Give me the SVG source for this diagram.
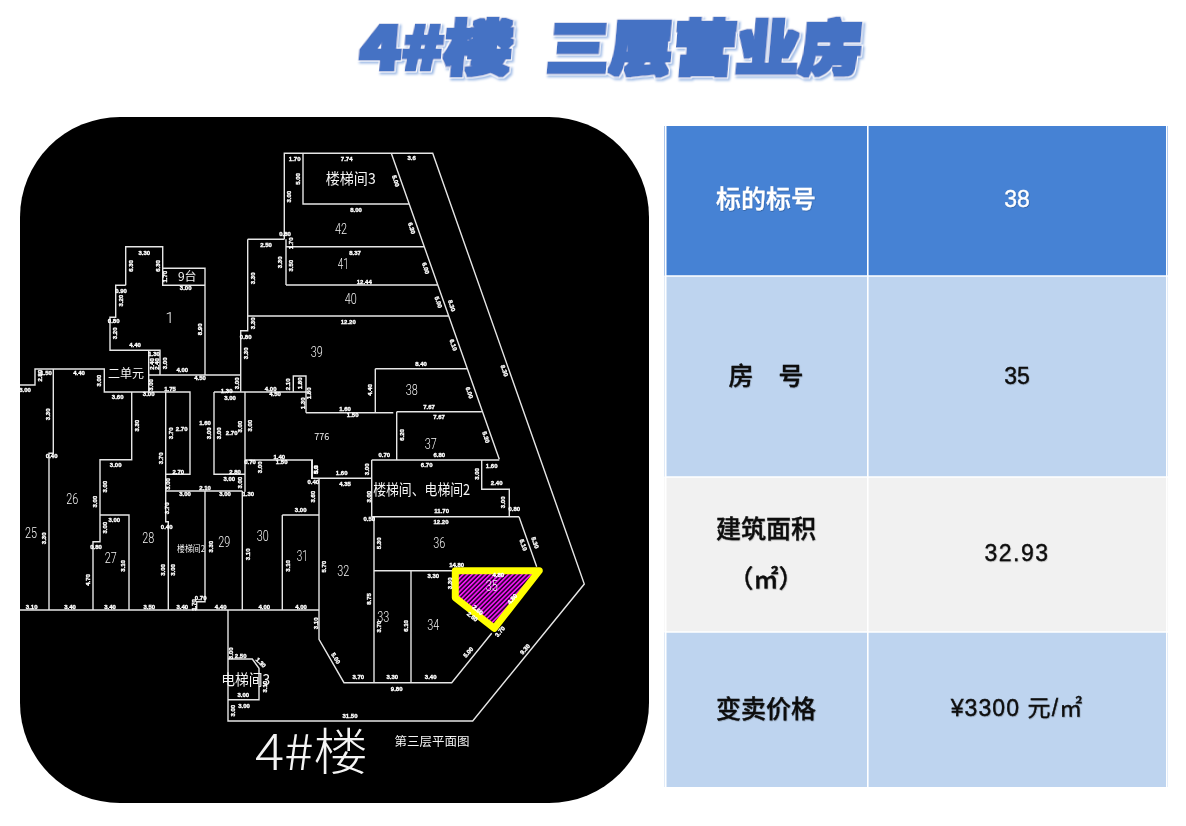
<svg xmlns="http://www.w3.org/2000/svg" width="1186" height="826" viewBox="0 0 1186 826">
<style>
.w{fill:none;stroke:#e6e6e6;stroke-width:1.4}
.r{font-family:Roboto,"Liberation Sans",sans-serif;font-weight:300;fill:#f4f4f4;font-size:15px;text-anchor:middle;dominant-baseline:central}
.c{font-family:"Noto Sans CJK SC","Liberation Sans",sans-serif;fill:#f4f4f4;text-anchor:middle;dominant-baseline:central;font-weight:400}
.d{font-family:"Liberation Sans",sans-serif;fill:#fff;stroke:#fff;stroke-width:.35;font-size:6px;font-weight:700;text-anchor:middle;dominant-baseline:central}
.t{font-family:"Noto Sans CJK SC",sans-serif;font-weight:900;font-size:59px;fill:#4472c4;filter:url(#tf)}
.h{font-family:"Noto Sans CJK SC","Liberation Sans",sans-serif;font-size:25px;font-weight:500;text-anchor:middle;dominant-baseline:central;filter:url(#ts)}
.n{font-family:"Liberation Sans","Noto Sans CJK SC",sans-serif;font-size:23px;text-anchor:middle;dominant-baseline:central;filter:url(#ts)}
.k{fill:#0a0a0a;stroke:#0a0a0a;stroke-width:.3}.wt{fill:#fff;stroke:#fff;stroke-width:.3}
</style>
<defs>
<filter id="tf" x="-30%" y="-60%" width="160%" height="220%">
<feMorphology in="SourceAlpha" operator="dilate" radius="1.5" result="a"/>
<feFlood flood-color="#4472c4"/><feComposite in2="a" operator="in" result="b"/>
<feMorphology in="SourceAlpha" operator="dilate" radius="2.5" result="c"/>
<feFlood flood-color="#ffffff"/><feComposite in2="c" operator="in" result="d"/>
<feOffset in="c" dx="1.5" dy="1.5" result="e"/><feGaussianBlur in="e" stdDeviation="0.8" result="f"/>
<feFlood flood-color="#9fbbe6"/><feComposite in2="f" operator="in" result="g"/>
<feMerge><feMergeNode in="g"/><feMergeNode in="d"/><feMergeNode in="b"/></feMerge>
</filter>
<filter id="ts" x="-10%" y="-20%" width="120%" height="140%"><feDropShadow dx="0.5" dy="0.7" stdDeviation="0.6" flood-color="#000" flood-opacity="0.3"/></filter>
<filter id="soft" filterUnits="userSpaceOnUse" x="20" y="117" width="629" height="686"><feGaussianBlur stdDeviation="0.3"/></filter>
<pattern id="hatch" width="3.2" height="3.2" patternUnits="userSpaceOnUse" patternTransform="rotate(-45)"><rect width="3.2" height="3.2" fill="#22002a"/><rect width="3.2" height="1.7" fill="#f014f0"/></pattern>
</defs>
<rect width="1186" height="826" fill="#fff"/>
<g id="title">
<text class="t" transform="translate(358,69.5) skewX(-5)" textLength="153" lengthAdjust="spacingAndGlyphs">4#楼</text>
<text class="t" transform="translate(545,69.5) skewX(-5)" textLength="316" lengthAdjust="spacingAndGlyphs">三层营业房</text>
</g>
<rect id="plan-bg" x="20" y="117" width="629" height="686" rx="100" ry="100" fill="#000"/>
<g id="plan" filter="url(#soft)">
<g id="plan-walls" class="w">
<path d="M284.3 239.3V153.3H432.7L584.3 584L472.7 721H228V610"/>
<path d="M391.3 153.3L499.3 459.3M303 153.3V204H408.7M286 239.3V285M247.7 239.3H284.3M247.7 239.3V316M286 246.7H424.3M286 285H437.3M247.7 316H448.7M247.7 316V330.7H240.7V391.7M375.3 368.7H467.3M375.3 368.7V412.7M306 412.7H393.3M306 391.7V412.7M293.3 391.7V376H306V391.7M396.7 411.7H481.7"/>
<path d="M125.7 285.3V246.7H162.7V268.3H205V375M162.7 268.3V285.3H205M125.7 285.3H115.7V317.3H110V350.3H148.7V392M148.7 350.3H160V375M148.7 375H240"/>
<path d="M20 385H35V369H104.3V392H190V474.3H165.7M165.7 392V521.7H168.3V610M53.3 369V453.3H49V610M131.7 392V459.7H100V541.7H93V610M100 515H129V610M214 392H245V491.7M214 392V474.3H245M245 392H306.7M245 460H312.3V478.3M165.7 491H242.3M205 491V601.7H196.7V610M242.3 491V610"/>
<path d="M20 610H319M228 659H252.3L259 668.3V699.7H228M282.3 515H319M282.3 515V610"/>
<path d="M396.7 411.7V459.3M371.7 460H499.3M371.7 460V516.7M371.7 516.7H519M481.7 460V489.3H509.3V516.7M519 516.7L536.7 566.7M311.7 460V478.3H371.7M319 478.3V639.3L344 682.7H451.7L491.7 633.3M374 516.7V682.7M374 570.7H453M411 570.7V682.7"/>
</g>
<g id="unit-35">
<polygon points="455.3,570.7 539.3,570.7 494.3,628.3 455.3,597.7" fill="url(#hatch)" stroke="#ffff00" stroke-width="7" stroke-linejoin="round"/>
</g>
<g id="room-labels">
<text class="r" x="169.7" y="318">1</text><text class="c" x="187.3" y="275.7" font-size="12">9台</text>
<text class="c" x="126" y="372.7" font-size="12" textLength="36" lengthAdjust="spacingAndGlyphs">二单元</text>
<text class="r" x="72.3" y="499" textLength="12" lengthAdjust="spacingAndGlyphs">26</text><text class="r" x="31" y="533.3" textLength="12" lengthAdjust="spacingAndGlyphs">25</text><text class="r" x="110.7" y="558" textLength="12" lengthAdjust="spacingAndGlyphs">27</text><text class="r" x="148.3" y="538" textLength="12" lengthAdjust="spacingAndGlyphs">28</text>
<text class="c" x="191" y="548" font-size="9" textLength="28" lengthAdjust="spacingAndGlyphs">楼梯间2</text>
<text class="r" x="224.3" y="542.3" textLength="12" lengthAdjust="spacingAndGlyphs">29</text><text class="r" x="262.7" y="535.7" textLength="12" lengthAdjust="spacingAndGlyphs">30</text><text class="r" x="302.3" y="555.7" textLength="11" lengthAdjust="spacingAndGlyphs">31</text><text class="r" x="343.3" y="570.7" textLength="12" lengthAdjust="spacingAndGlyphs">32</text><text class="r" x="383.3" y="617.3" textLength="12" lengthAdjust="spacingAndGlyphs">33</text><text class="r" x="433.3" y="625" textLength="12" lengthAdjust="spacingAndGlyphs">34</text><text class="r" x="491.7" y="586" textLength="12" lengthAdjust="spacingAndGlyphs">35</text><text class="r" x="439.3" y="543.3" textLength="12" lengthAdjust="spacingAndGlyphs">36</text><text class="r" x="430.7" y="444.3" textLength="12" lengthAdjust="spacingAndGlyphs">37</text><text class="r" x="411.7" y="390" textLength="12" lengthAdjust="spacingAndGlyphs">38</text><text class="r" x="316.7" y="351.7" textLength="12" lengthAdjust="spacingAndGlyphs">39</text><text class="r" x="350.7" y="299" textLength="12" lengthAdjust="spacingAndGlyphs">40</text><text class="r" x="343.3" y="264.3" textLength="11" lengthAdjust="spacingAndGlyphs">41</text><text class="r" x="341" y="229.3" textLength="12" lengthAdjust="spacingAndGlyphs">42</text>
<text class="c" x="350.7" y="177.3" font-size="15" textLength="50" lengthAdjust="spacingAndGlyphs">楼梯间3</text>
<text class="c" x="421.7" y="488.3" font-size="15" textLength="97" lengthAdjust="spacingAndGlyphs">楼梯间、电梯间2</text>
<text class="c" x="321.7" y="436.7" font-size="9">776</text>
<text class="c" x="245.7" y="678.3" font-size="15" textLength="49" lengthAdjust="spacingAndGlyphs">电梯间3</text>
<text class="c" x="311.5" y="748" font-size="50" textLength="113" lengthAdjust="spacingAndGlyphs" style="font-weight:300">4#楼</text>
<text class="c" x="432" y="740" font-size="12.5" textLength="75" lengthAdjust="spacingAndGlyphs">第三层平面图</text>
</g>
<g id="dimensions">
<text class="d" x="144.3" y="252.7">3.30</text><text class="d" x="185.7" y="287.7">3.00</text><text class="d" x="121" y="290.7">0.90</text><text class="d" x="113.7" y="321">0.80</text><text class="d" x="135" y="345">4.40</text><text class="d" x="154" y="354">1.30</text><text class="d" x="182.3" y="370">4.00</text><text class="d" x="200" y="378.3">4.50</text><text class="d" x="148.7" y="394">3.00</text><text class="d" x="170" y="389.3">1.75</text><text class="d" x="46" y="373">1.50</text><text class="d" x="79" y="373.3">4.40</text><text class="d" x="117.7" y="397.3">3.60</text><text class="d" x="25" y="390">3.00</text><text class="d" x="51.7" y="455.7">0.40</text><text class="d" x="181.7" y="428.7">2.70</text><text class="d" x="178.3" y="471.7">2.70</text><text class="d" x="185" y="494.3">3.00</text><text class="d" x="205" y="488.3">2.10</text><text class="d" x="225" y="494">3.00</text><text class="d" x="248.3" y="494">1.30</text><text class="d" x="230" y="397.7">3.00</text><text class="d" x="226.7" y="390.7">1.30</text><text class="d" x="205" y="422.7">1.60</text><text class="d" x="231.7" y="433.3">2.70</text><text class="d" x="235" y="471.7">2.80</text><text class="d" x="229.3" y="479.3">3.00</text><text class="d" x="250" y="462.3">0.70</text><text class="d" x="279.3" y="456.7">1.40</text><text class="d" x="281.7" y="462.3">1.50</text><text class="d" x="313.3" y="481.7">0.40</text><text class="d" x="115.7" y="465">3.00</text><text class="d" x="245.7" y="336.7">0.80</text><text class="d" x="266" y="245">2.50</text><text class="d" x="285" y="234">0.80</text>
<text class="d" x="294.7" y="159">1.70</text><text class="d" x="346.7" y="159">7.74</text><text class="d" x="411.7" y="158.3">3.6</text><text class="d" x="356" y="210">8.00</text><text class="d" x="355" y="252.7">8.37</text><text class="d" x="364.3" y="282.3">12.44</text><text class="d" x="348.3" y="321.7">12.20</text><text class="d" x="421" y="364.3">8.40</text><text class="d" x="429" y="407.3">7.67</text><text class="d" x="439" y="416.7">7.67</text><text class="d" x="345" y="409.3">1.60</text><text class="d" x="352.7" y="415.3">1.50</text><text class="d" x="270.7" y="389.3">4.00</text><text class="d" x="275" y="394.3">4.50</text>
<text class="d" x="439.3" y="455">6.80</text><text class="d" x="384.3" y="455">0.70</text><text class="d" x="426.7" y="465">6.70</text><text class="d" x="491.7" y="466">1.60</text><text class="d" x="496.7" y="482.7">2.40</text><text class="d" x="514.3" y="509.3">0.80</text><text class="d" x="441.7" y="511">11.70</text><text class="d" x="441" y="521.7">12.20</text><text class="d" x="341.7" y="473.3">1.60</text><text class="d" x="345" y="484.3">4.35</text><text class="d" x="369.3" y="519">0.50</text><text class="d" x="456.7" y="565">14.80</text><text class="d" x="433.3" y="575.7">3.30</text><text class="d" x="358.3" y="677.3">3.70</text><text class="d" x="392.3" y="677.3">3.30</text><text class="d" x="430.7" y="677.3">3.40</text><text class="d" x="396.7" y="688.7">9.80</text><text class="d" x="350" y="716">31.50</text><text class="d" x="498.3" y="575">4.80</text>
<text class="d" x="31.7" y="607.3">3.10</text><text class="d" x="70" y="607.3">3.40</text><text class="d" x="114.3" y="520.3">3.00</text><text class="d" x="96" y="547.3">0.80</text><text class="d" x="110" y="607.3">3.40</text><text class="d" x="149.3" y="607.3">3.50</text><text class="d" x="166.7" y="527.3">0.40</text><text class="d" x="182.3" y="607.3">3.40</text><text class="d" x="200.7" y="597.7">0.70</text><text class="d" x="220.7" y="607.3">4.40</text><text class="d" x="264.3" y="607.3">4.00</text><text class="d" x="301" y="607.3">4.00</text><text class="d" x="300.7" y="510">3.00</text><text class="d" x="240.7" y="656">2.50</text><text class="d" x="243.3" y="695">3.00</text><text class="d" x="244" y="705.7">3.00</text>
<text class="d" transform="rotate(-90 131 266)" x="131" y="266">6.30</text><text class="d" transform="rotate(-90 157.7 266)" x="157.7" y="266">6.30</text><text class="d" transform="rotate(-90 165.3 276.7)" x="165.3" y="276.7">1.70</text><text class="d" transform="rotate(-90 121 300.7)" x="121" y="300.7">3.20</text><text class="d" transform="rotate(-90 115 333.3)" x="115" y="333.3">3.20</text><text class="d" transform="rotate(-90 200.3 329.3)" x="200.3" y="329.3">8.90</text><text class="d" transform="rotate(-90 151.7 364)" x="151.7" y="364">2.40</text><text class="d" transform="rotate(-90 157.3 364)" x="157.3" y="364">2.40</text><text class="d" transform="rotate(-90 165 363.3)" x="165" y="363.3">3.00</text><text class="d" transform="rotate(-90 236.7 383.3)" x="236.7" y="383.3">3.00</text><text class="d" transform="rotate(-90 151 385)" x="151" y="385">3.00</text><text class="d" transform="rotate(-90 40 375.7)" x="40" y="375.7">2.80</text><text class="d" transform="rotate(-90 99.3 380.7)" x="99.3" y="380.7">3.00</text><text class="d" transform="rotate(-90 48.3 414.3)" x="48.3" y="414.3">3.30</text><text class="d" transform="rotate(-90 137.3 425.7)" x="137.3" y="425.7">3.30</text><text class="d" transform="rotate(-90 161 458.3)" x="161" y="458.3">3.70</text><text class="d" transform="rotate(-90 170.7 433.3)" x="170.7" y="433.3">3.70</text><text class="d" transform="rotate(-90 167.7 484)" x="167.7" y="484">3.00</text><text class="d" transform="rotate(-90 209 433.3)" x="209" y="433.3">3.00</text><text class="d" transform="rotate(-90 219.3 433.3)" x="219.3" y="433.3">3.00</text><text class="d" transform="rotate(-90 240 426.7)" x="240" y="426.7">3.00</text><text class="d" transform="rotate(-90 250.3 425.7)" x="250.3" y="425.7">3.00</text><text class="d" transform="rotate(-90 240 482.7)" x="240" y="482.7">3.00</text><text class="d" transform="rotate(-90 260 467.3)" x="260" y="467.3">3.00</text><text class="d" transform="rotate(-90 316 470)" x="316" y="470">5.0</text><text class="d" transform="rotate(-90 313.3 496.7)" x="313.3" y="496.7">3.60</text><text class="d" transform="rotate(-90 105 486.7)" x="105" y="486.7">3.00</text><text class="d" transform="rotate(-90 95 501.7)" x="95" y="501.7">3.00</text><text class="d" transform="rotate(-90 245.7 353.3)" x="245.7" y="353.3">3.30</text><text class="d" transform="rotate(-90 253.3 323.3)" x="253.3" y="323.3">3.30</text><text class="d" transform="rotate(-90 253.3 278.3)" x="253.3" y="278.3">3.30</text><text class="d" transform="rotate(-90 280 262.3)" x="280" y="262.3">3.30</text><text class="d" transform="rotate(-90 291 265.7)" x="291" y="265.7">3.50</text><text class="d" transform="rotate(-90 291 243.3)" x="291" y="243.3">1.70</text>
<text class="d" transform="rotate(-90 298.3 179)" x="298.3" y="179">5.00</text><text class="d" transform="rotate(-90 289.3 196.7)" x="289.3" y="196.7">3.00</text><text class="d" transform="rotate(-90 370 390)" x="370" y="390">4.40</text><text class="d" transform="rotate(-90 309 393.3)" x="309" y="393.3">1.80</text><text class="d" transform="rotate(-90 303.3 403.3)" x="303.3" y="403.3">1.30</text><text class="d" transform="rotate(-90 300 383.3)" x="300" y="383.3">1.80</text><text class="d" transform="rotate(-90 287.7 384.3)" x="287.7" y="384.3">2.10</text><text class="d" transform="rotate(-90 401.7 435)" x="401.7" y="435">6.20</text><text class="d" transform="rotate(-90 476.7 474)" x="476.7" y="474">3.00</text><text class="d" transform="rotate(-90 503.3 502.3)" x="503.3" y="502.3">3.00</text><text class="d" transform="rotate(-90 379 543.3)" x="379" y="543.3">5.30</text><text class="d" transform="rotate(-90 369 496.7)" x="369" y="496.7">3.00</text><text class="d" transform="rotate(-90 366.7 469.3)" x="366.7" y="469.3">3.00</text><text class="d" transform="rotate(-90 315.7 469.3)" x="315.7" y="469.3">5.0</text><text class="d" transform="rotate(-90 450 583.3)" x="450" y="583.3">3.30</text><text class="d" transform="rotate(-90 324 566.7)" x="324" y="566.7">5.70</text><text class="d" transform="rotate(-90 369 599)" x="369" y="599">8.75</text><text class="d" transform="rotate(-90 379 626.7)" x="379" y="626.7">3.70</text><text class="d" transform="rotate(-90 406 626)" x="406" y="626">6.10</text><text class="d" transform="rotate(-90 315.7 623.3)" x="315.7" y="623.3">3.10</text><text class="d" transform="rotate(-90 44 538.3)" x="44" y="538.3">3.30</text><text class="d" transform="rotate(-90 87.7 580)" x="87.7" y="580">4.70</text><text class="d" transform="rotate(-90 105 527.7)" x="105" y="527.7">3.00</text><text class="d" transform="rotate(-90 123.3 566)" x="123.3" y="566">3.10</text><text class="d" transform="rotate(-90 163.3 570)" x="163.3" y="570">3.00</text><text class="d" transform="rotate(-90 173.3 570)" x="173.3" y="570">3.00</text><text class="d" transform="rotate(-90 211 546.7)" x="211" y="546.7">3.30</text><text class="d" transform="rotate(-90 194 605)" x="194" y="605">1.70</text><text class="d" transform="rotate(-90 247.7 554.3)" x="247.7" y="554.3">3.10</text><text class="d" transform="rotate(-90 287.7 566)" x="287.7" y="566">3.10</text><text class="d" transform="rotate(-90 230.7 653.3)" x="230.7" y="653.3">3.00</text><text class="d" transform="rotate(-90 265 686.7)" x="265" y="686.7">3.10</text><text class="d" transform="rotate(-90 232.7 710.7)" x="232.7" y="710.7">3.00</text><text class="d" transform="rotate(-90 166.7 508.3)" x="166.7" y="508.3">3.70</text>
<text class="d" transform="rotate(72 395.7 181)" x="395.7" y="181">5.00</text><text class="d" transform="rotate(72 411.7 228.3)" x="411.7" y="228.3">6.30</text><text class="d" transform="rotate(72 425.7 268.3)" x="425.7" y="268.3">6.00</text><text class="d" transform="rotate(72 438.3 302.3)" x="438.3" y="302.3">5.00</text><text class="d" transform="rotate(72 451.7 305.7)" x="451.7" y="305.7">8.30</text><text class="d" transform="rotate(72 453.3 345)" x="453.3" y="345">6.10</text><text class="d" transform="rotate(72 504.3 370.7)" x="504.3" y="370.7">8.30</text><text class="d" transform="rotate(72 469.3 392.7)" x="469.3" y="392.7">6.00</text><text class="d" transform="rotate(72 486 437.3)" x="486" y="437.3">5.30</text><text class="d" transform="rotate(72 523.3 545)" x="523.3" y="545">5.10</text><text class="d" transform="rotate(72 535 542.7)" x="535" y="542.7">5.30</text>
<text class="d" transform="rotate(60 335.7 658.3)" x="335.7" y="658.3">5.00</text><text class="d" transform="rotate(-50 468.3 652.3)" x="468.3" y="652.3">5.00</text><text class="d" transform="rotate(-50 500 631.7)" x="500" y="631.7">3.70</text><text class="d" transform="rotate(-50 525 649.3)" x="525" y="649.3">9.30</text><text class="d" transform="rotate(-50 512.3 599)" x="512.3" y="599">4.80</text><text class="d" transform="rotate(40 477.7 610)" x="477.7" y="610">2.60</text><text class="d" transform="rotate(40 472.3 616.7)" x="472.3" y="616.7">2.60</text><text class="d" transform="rotate(45 260.7 662.7)" x="260.7" y="662.7">1.30</text>
</g>
</g>
<g id="table">
<rect x="664.5" y="126" width="503.5" height="150" fill="#4682d4"/>
<rect x="664.5" y="276" width="503.5" height="201" fill="#bed4ef"/>
<rect x="664.5" y="477" width="503.5" height="155" fill="#f1f1f1"/>
<rect x="664.5" y="632" width="503.5" height="155" fill="#bed4ef"/>
<path d="M665.7 126V787M867.8 126V787M1166.8 126V787M664.5 276H1168M664.5 477H1168M664.5 632H1168" fill="none" stroke="#fff" stroke-width="1.6"/>
</g>
<g id="table-text">
<text class="h wt" x="766" y="197">标的标号</text><text class="n wt" x="1017" y="198.5">38</text>
<text class="h k" x="766" y="374" xml:space="preserve">房　号</text><text class="n k" x="1017" y="375.5">35</text>
<text class="h k" x="766" y="526.5">建筑面积</text><text class="h k" x="766" y="576.5">（㎡）</text><text class="n k" x="1017" y="553" letter-spacing="1.5">32.93</text>
<text class="h k" x="766" y="707">变卖价格</text><text class="n k" x="1017" y="708" letter-spacing="1.1">¥3300 元/㎡</text>
</g>
</svg>
